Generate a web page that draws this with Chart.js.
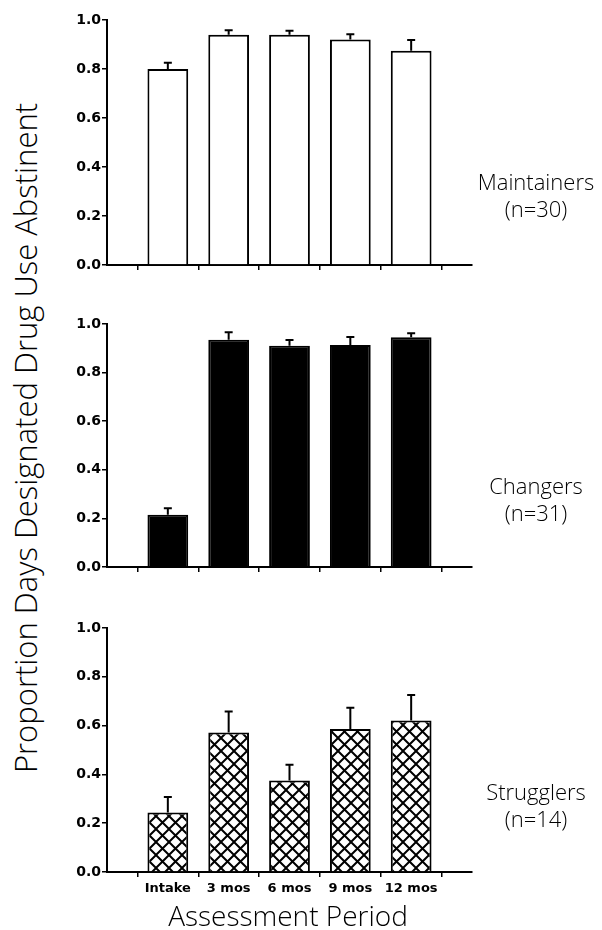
<!DOCTYPE html>
<html lang="en">
<head>
  <meta charset="UTF-8" />
  <title>Proportion Days Designated Drug Use Abstinent</title>
  <script src="https://cdn.jsdelivr.net/npm/chart.js"></script>
  <style>
    body {
      margin: 0;
      width: 602px;
      height: 930px;
      background: #fff;
      position: relative;
      overflow: hidden;
      font-family: 'Open Sans', 'DejaVu Sans', sans-serif;
      color: #000;
    }
    .panel { position: absolute; left: 0; width: 602px; }
    .group {
      position: absolute;
      width: 140px;
      left: 466px;
      text-align: center;
      font-size: 22px;
      font-weight: 300;
      line-height: 27px;
    }
    #ytitle {
      position: absolute;
      left: 25px;
      top: 438px;
      transform: translate(-50%, -50%) rotate(-90deg);
      white-space: nowrap;
      font-size: 31px;
      font-weight: 300;
    }
    #xtitle {
      position: absolute;
      left: 288px;
      top: 915px;
      transform: translate(-50%, -50%);
      white-space: nowrap;
      font-size: 28px;
      font-weight: 300;
    }
  </style>
</head>
<body>
  <div id="ytitle">Proportion Days Designated Drug Use Abstinent</div>

  <div class="panel" style="top:0;height:300px"><canvas id="c1"></canvas></div>
  <div class="panel" style="top:304px;height:300px"><canvas id="c2"></canvas></div>
  <div class="panel" style="top:608px;height:322px"><canvas id="c3"></canvas></div>

  <div class="group" style="top:168px">Maintainers<br>(n=30)</div>
  <div class="group" style="top:472px">Changers<br>(n=31)</div>
  <div class="group" style="top:778px">Strugglers<br>(n=14)</div>

  <div id="xtitle">Assessment Period</div>

  <script>
    const periods = ['Intake', '3 mos', '6 mos', '9 mos', '12 mos'];
    const yTicks = [0, 0.2, 0.4, 0.6, 0.8, 1.0];

    const maintainers = [0.80, 0.94, 0.94, 0.92, 0.875];
    const maintainersErr = [0.026, 0.018, 0.016, 0.022, 0.043];

    const changers = [0.215, 0.935, 0.91, 0.914, 0.945];
    const changersErr = [0.027, 0.031, 0.024, 0.033, 0.017];

    const strugglers = [0.244, 0.572, 0.375, 0.586, 0.621];
    const strugglersErr = [0.063, 0.086, 0.065, 0.087, 0.104];

    // crosshatch fill for the strugglers
    function crosshatch() {
      const s = 13;
      const c = document.createElement('canvas');
      c.width = s; c.height = s;
      const g = c.getContext('2d');
      g.fillStyle = '#fff';
      g.fillRect(0, 0, s, s);
      g.strokeStyle = '#000';
      g.lineWidth = 2;
      for (let k = -1; k <= 1; k++) {
        g.beginPath();
        g.moveTo(k * s, 0); g.lineTo(k * s + s, s);
        g.moveTo(k * s + s, 0); g.lineTo(k * s, s);
        g.stroke();
      }
      return g.createPattern(c, 'repeat');
    }

    // upward-only error bars with a small cap
    const errorBars = {
      id: 'errorBars',
      afterDatasetsDraw(chart) {
        const ctx = chart.ctx;
        const y = chart.scales.y;
        chart.data.datasets.forEach((ds, di) => {
          chart.getDatasetMeta(di).data.forEach((bar, i) => {
            const top = y.getPixelForValue(ds.data[i].y + ds.err[i]);
            ctx.save();
            ctx.strokeStyle = '#000';
            ctx.lineWidth = 2;
            ctx.beginPath();
            ctx.moveTo(bar.x, bar.y);
            ctx.lineTo(bar.x, top);
            ctx.moveTo(bar.x - 4, top);
            ctx.lineTo(bar.x + 4, top);
            ctx.stroke();
            ctx.restore();
          });
        });
      }
    };

    function panel(id, values, err, fill, showLabels, xHeight, padBottom) {
      return new Chart(document.getElementById(id), {
        type: 'bar',
        data: {
          datasets: [{
            data: values.map((v, i) => ({ x: i + 1, y: v })),
            err: err,
            backgroundColor: fill,
            borderColor: '#000',
            borderWidth: 2,
            barPercentage: 0.67,
            categoryPercentage: 1
          }]
        },
        options: {
          responsive: true,
          maintainAspectRatio: false,
          animation: false,
          layout: { padding: { left: 67, right: 130, top: 20, bottom: padBottom } },
          plugins: { legend: { display: false }, tooltip: { enabled: false } },
          scales: {
            x: {
              type: 'linear',
              offset: false,
              min: 0,
              max: 6,
              afterBuildTicks: (s) => { s.ticks = [1, 2, 3, 4, 5, 6].map(v => ({ value: v })); },
              afterFit: (s) => { s.height = xHeight; },
              grid: { drawOnChartArea: false, color: '#000', lineWidth: 1.5, tickLength: 5 },
              border: { color: '#000', width: 2 },
              ticks: {
                autoSkip: false,
                maxRotation: 0,
                padding: 4,
                color: '#000',
                font: { family: 'DejaVu Sans', size: 13, weight: 'bold' },
                callback: (v) => showLabels ? (periods[v - 1] || '') : ''
              }
            },
            y: {
              min: 0,
              max: 1,
              afterBuildTicks: (s) => { s.ticks = yTicks.map(v => ({ value: v })); },
              afterFit: (s) => { s.width = 40; },
              grid: { drawOnChartArea: false, color: '#000', lineWidth: 1.5, tickLength: 5 },
              border: { color: '#000', width: 2 },
              ticks: {
                padding: 1,
                color: '#000',
                font: { family: 'DejaVu Sans', size: 14, weight: 'bold' },
                callback: (v) => v.toFixed(1)
              }
            }
          }
        },
        plugins: [errorBars]
      });
    }

    panel('c1', maintainers, maintainersErr, '#fff', false, 10, 25);
    panel('c2', changers, changersErr, '#000', false, 10, 27);
    panel('c3', strugglers, strugglersErr, crosshatch(), true, 30, 28);
  </script>
</body>
</html>
